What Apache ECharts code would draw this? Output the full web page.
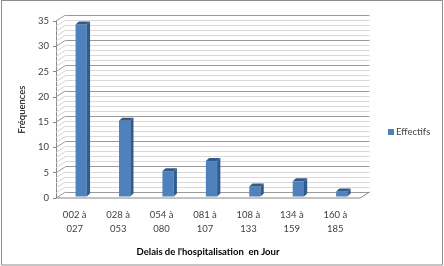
<!DOCTYPE html>
<html><head><meta charset="utf-8">
<script src="https://cdn.jsdelivr.net/npm/echarts@6/dist/echarts.min.js"></script>
<style>html,body{margin:0;padding:0;background:#fff}#c{width:444px;height:266px}</style>
</head><body><div id="c"></div>
<script>
const categories = ['002 à\n027','028 à\n053','054 à\n080','081 à\n107','108 à\n133','134 à\n159','160 à\n185'];
const effectifs = [34, 15, 5, 7, 2, 3, 1];
const yMin = 0, yMax = 35, yInterval = 5;
const seriesName = 'Effectifs';
const xTitle = "Delais de l'hospitalisation  en Jour";
const yTitle = 'Fréquences';

const DX = 9.5, DY = -6;
const FONT = 'Lato';
const TXT = '#404040';
const G = {left:56, right:84, top:21, bottom:68};
const chart = echarts.init(document.getElementById('c'), null, {renderer:'canvas'});

function wallItem(params, api){
  const cs = params.coordSys;
  const kids = [];
  const x0 = cs.x, x1 = cs.x + cs.width;
  for (let v = yMin; v <= yMax; v += 1){
    const y = api.coord([0, v])[1];
    const major = (v % yInterval) === 0;
    kids.push({type:'line', shape:{x1:x0, y1:y, x2:x0+DX, y2:y+DY},
      style:{stroke: major ? '#9a9a9a' : '#d4d4d4', lineWidth:1}});
  }
  const yb = api.coord([0, yMin])[1];
  kids.push({type:'line', shape:{x1:x0, y1:yb, x2:x1, y2:yb}, style:{stroke:'#868686', lineWidth:1}});
  kids.push({type:'line', shape:{x1:x1, y1:yb, x2:x1+DX, y2:yb+DY}, style:{stroke:'#868686', lineWidth:1}});
  return {type:'group', children:kids};
}

function barItem(params, api){
  const idx = api.value(0), v = api.value(1);
  const top = api.coord([idx, v]);
  const base = api.coord([idx, 0]);
  const band = api.size([1, 0])[0];
  const bw = band * 0.26, sx = 3.5, sy = -1.5, d = 3.2, dv = 3;
  const x = top[0] - bw/2 + sx, y = top[1] + sy, h = base[1] - top[1];
  return {type:'group', children:[
    {type:'rect', shape:{x:x, y:y, width:bw, height:h}, style:{fill:'#4F81BD'}},
    {type:'polygon', shape:{points:[[x+bw,y],[x+bw+d,y-dv],[x+bw+d,y+h-dv],[x+bw,y+h]]}, style:{fill:'#2F5B8E'}},
    {type:'polygon', shape:{points:[[x,y],[x+d,y-dv],[x+bw+d,y-dv],[x+bw,y]]}, style:{fill:'#31598A'}}
  ]};
}

const option = {
  animation:false,
  textStyle:{fontFamily:FONT},
  grid:[
    {left:G.left, right:G.right, top:G.top, bottom:G.bottom},
    {left:G.left+DX, right:G.right-DX, top:G.top+DY, bottom:G.bottom-DY}
  ],
  xAxis:[
    {type:'category', gridIndex:0, data:categories,
     axisLine:{show:false}, axisTick:{show:false},
     axisLabel:{color:TXT, fontSize:9.5, fontFamily:FONT, margin:10, lineHeight:14, padding:[0,6,0,0], interval:0},
     name:xTitle, nameLocation:'middle', nameGap:49,
     nameTextStyle:{color:'#000', fontSize:9.5, fontWeight:'bold', fontFamily:FONT}},
    {type:'category', gridIndex:1, data:categories, show:false}
  ],
  yAxis:[
    {type:'value', gridIndex:0, min:yMin, max:yMax, interval:yInterval,
     axisLine:{show:true, lineStyle:{color:'#868686'}},
     axisTick:{show:true, length:3, lineStyle:{color:'#868686'}},
     splitLine:{show:false},
     axisLabel:{color:TXT, fontSize:9.5, fontFamily:FONT, margin:7},
     name:yTitle, nameLocation:'middle', nameGap:25, nameRotate:90,
     nameTextStyle:{color:'#000', fontSize:9.5, fontFamily:FONT}},
    {type:'value', gridIndex:1, min:yMin, max:yMax, interval:yInterval,
     axisLine:{show:false}, axisTick:{show:false}, axisLabel:{show:false},
     splitLine:{show:true, lineStyle:{color:'#9a9a9a', width:1}},
     minorTick:{show:false, splitNumber:5},
     minorSplitLine:{show:true, lineStyle:{color:'#d9d9d9', width:1}}}
  ],
  legend:{
    left:388, top:127, padding:0, itemWidth:6, itemHeight:6,
    data:[{name:seriesName, icon:'rect'}],
    textStyle:{color:TXT, fontSize:9.5, fontFamily:FONT, padding:[0,0,0,-3]}
  },
  graphic:[{type:'rect', shape:{x:1.5, y:0.5, width:441, height:264.5}, style:{fill:null, stroke:'#8c8c8c', lineWidth:1}, silent:true, z:100}],
  series:[
    {type:'custom', name:'wall', xAxisIndex:0, yAxisIndex:0, renderItem:wallItem, data:[[0,0]], silent:true, z:1},
    {type:'custom', name:seriesName, xAxisIndex:0, yAxisIndex:0, renderItem:barItem,
     itemStyle:{color:'#4F81BD'},
     data:effectifs.map((v,i)=>[i,v]), encode:{x:0, y:1}, z:5}
  ]
};
chart.setOption(option);
</script></body></html>
